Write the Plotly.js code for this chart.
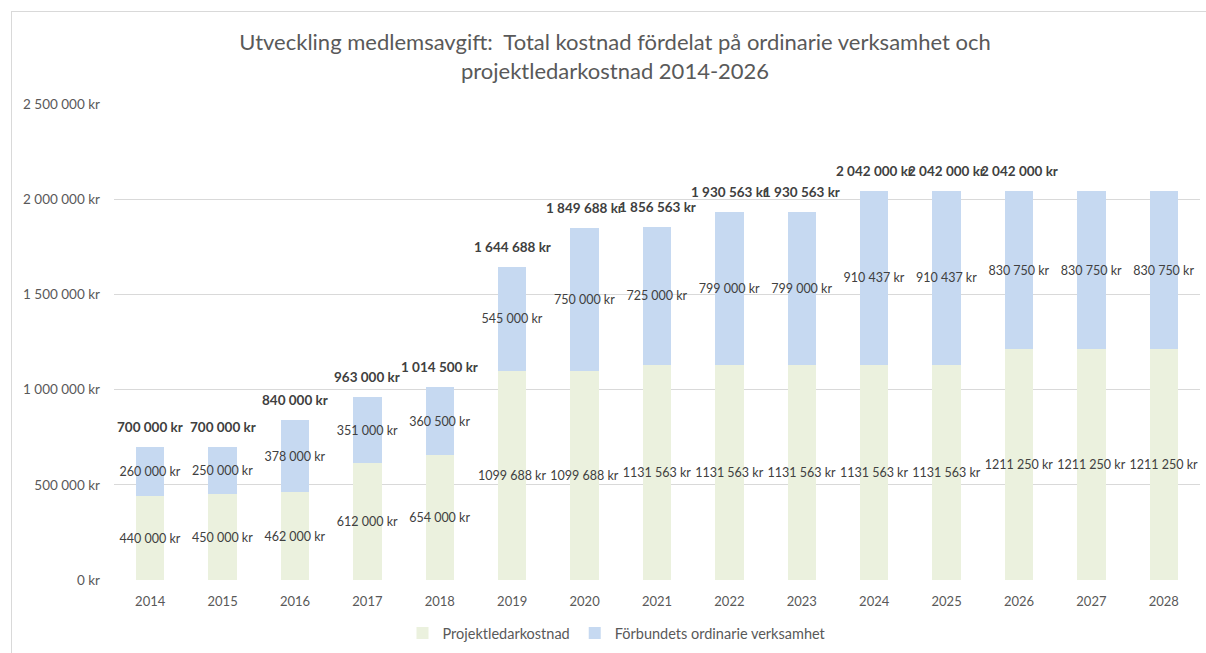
<!DOCTYPE html>
<html>
<head>
<meta charset="utf-8">
<script src="https://cdn.plot.ly/plotly-3.0.1.min.js"></script>
<style>
  html, body { margin: 0; padding: 0; width: 1206px; height: 653px; overflow: hidden; background: #fff; }
  #frame { position: absolute; left: 11px; top: 11px; width: 1400px; height: 800px; border: 1px solid #d9d9d9; box-sizing: border-box; }
  #chart { position: absolute; left: 0; top: 0; width: 1206px; height: 653px; }
</style>
</head>
<body>
<div id="frame"></div>
<div id="chart"></div>
<script>
const years = ["2014","2015","2016","2017","2018","2019","2020","2021","2022","2023","2024","2025","2026","2027","2028"];
const projektledar = [440000,450000,462000,612000,654000,1099688,1099688,1131563,1131563,1131563,1131563,1131563,1211250,1211250,1211250];
const ordinarie = [260000,250000,378000,351000,360500,545000,750000,725000,799000,799000,910437,910437,830750,830750,830750];
const showTotal = [true,true,true,true,true,true,true,true,true,true,true,true,true,false,false];
const yTickVals = [0,500000,1000000,1500000,2000000,2500000];
const yTickText = ["0 kr","500 000 kr","1 000 000 kr","1 500 000 kr","2 000 000 kr","2 500 000 kr"];

function fmtSpaced(v) {
  return String(Math.round(v)).replace(/\B(?=(\d{3})+(?!\d))/g, " ") + " kr";
}
// inner labels of the lower series show millions without the first separator (as in the source)
function fmtInner(v) {
  const s = String(Math.round(v));
  if (s.length > 6) return s.slice(0, s.length - 3) + " " + s.slice(-3) + " kr";
  return fmtSpaced(v);
}

const FONT = "Lato, 'Open Sans', sans-serif";
const totals = projektledar.map((v, i) => v + ordinarie[i]);

const common = {
  type: "bar",
  x: years,
  textposition: "inside",
  insidetextanchor: "middle",
  textangle: 0,
  constraintext: "none",
  cliponaxis: false,
  insidetextfont: { family: FONT, size: 12.5, color: "#404040" },
  hoverinfo: "skip"
};

const traces = [
  Object.assign({}, common, {
    name: "Projektledarkostnad",
    y: projektledar,
    text: projektledar.map(fmtInner),
    marker: { color: "#EBF1DE" }
  }),
  Object.assign({}, common, {
    name: "Förbundets ordinarie verksamhet",
    y: ordinarie,
    text: ordinarie.map(fmtSpaced),
    marker: { color: "#C6D9F1" }
  })
];

const annotations = [];
years.forEach((yr, i) => {
  if (!showTotal[i]) return;
  annotations.push({
    x: i, y: totals[i], xref: "x", yref: "y",
    text: "<b>" + fmtSpaced(totals[i]) + "</b>",
    showarrow: false, yshift: 20, yanchor: "middle", xanchor: "center",
    font: { family: FONT, size: 13.5, color: "#404040" }
  });
});

const layout = {
  width: 1206, height: 653,
  paper_bgcolor: "rgba(0,0,0,0)", plot_bgcolor: "rgba(0,0,0,0)",
  margin: { l: 114, r: 6, t: 104, b: 73 },
  barmode: "stack",
  bargap: 0.61,
  showlegend: true,
  title: {
    text: "Utveckling medlemsavgift:  Total kostnad fördelat på ordinarie verksamhet och<br>projektledarkostnad 2014-2026",
    font: { family: FONT, size: 22, color: "#595959" },
    x: 615 / 1206, xref: "container", xanchor: "center",
    y: 1 - 50 / 653, yref: "container", yanchor: "middle"
  },
  xaxis: {
    type: "category",
    range: [-0.5, years.length - 0.5],
    tickfont: { family: FONT, size: 13, color: "#595959" },
    showgrid: false, zeroline: false, showline: false, ticks: "",
    ticklabelstandoff: 12
  },
  yaxis: {
    range: [0, 2500000],
    tickvals: yTickVals, ticktext: yTickText,
    tickfont: { family: FONT, size: 13.5, color: "#595959" },
    showgrid: true, gridcolor: "#D9D9D9", gridwidth: 1,
    zeroline: false, showline: false, ticks: "",
    ticklabelstandoff: 13
  },
  legend: {
    orientation: "h",
    x: 617 / 1206, xref: "container", xanchor: "center",
    y: 1 - 633 / 653, yref: "container", yanchor: "middle",
    font: { family: FONT, size: 14.5, color: "#595959" },
    traceorder: "normal"
  },
  annotations: annotations
};

Plotly.newPlot("chart", traces, layout, { displayModeBar: false, staticPlot: true });
</script>
</body>
</html>
